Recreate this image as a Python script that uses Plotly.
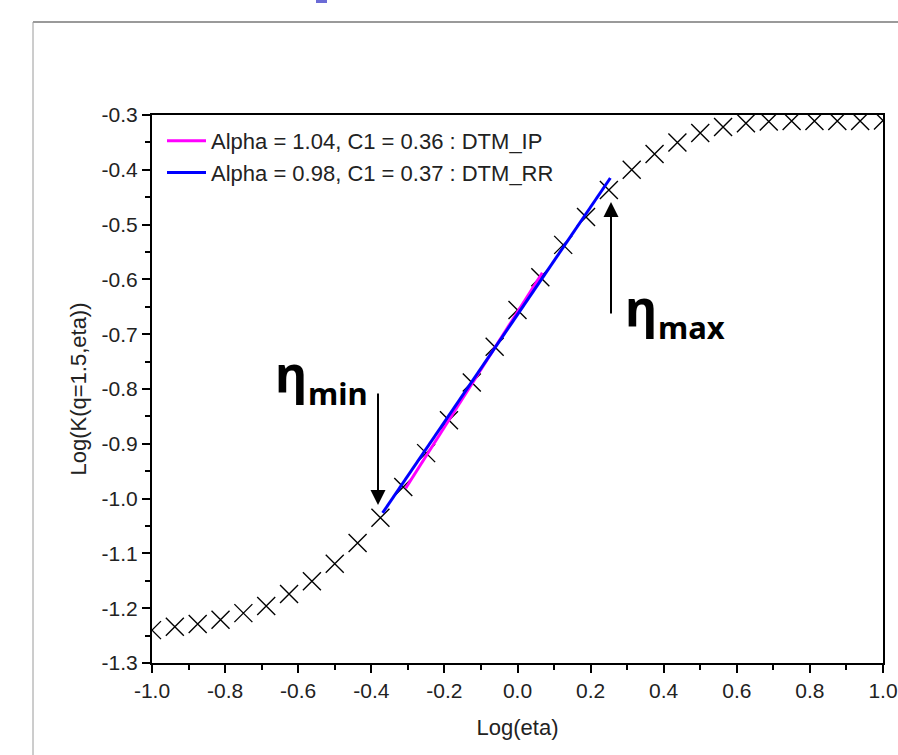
import plotly.graph_objects as go

# ---- data ----
log_eta = [-1.0, -0.9375, -0.875, -0.8125, -0.75, -0.6875, -0.625, -0.5625, -0.5,
           -0.4375, -0.375, -0.3125, -0.25, -0.1875, -0.125, -0.0625, 0.0,
           0.0625, 0.125, 0.1875, 0.25, 0.3125, 0.375, 0.4375, 0.5, 0.5625,
           0.625, 0.6875, 0.75, 0.8125, 0.875, 0.9375, 1.0]
log_k = [-1.240, -1.234, -1.229, -1.221, -1.209, -1.196, -1.174, -1.151, -1.119,
         -1.081, -1.035, -0.979, -0.917, -0.857, -0.788, -0.723, -0.656,
         -0.596, -0.537, -0.486, -0.437, -0.400, -0.371, -0.350, -0.333, -0.322,
         -0.315, -0.312, -0.311, -0.311, -0.311, -0.311, -0.310]

fit_ip_x = [-0.306, 0.068]
fit_ip_y = [-0.981, -0.588]
fit_rr_x = [-0.369, 0.254]
fit_rr_y = [-1.026, -0.415]

name_ip = "Alpha = 1.04, C1 = 0.36 : DTM_IP"
name_rr = "Alpha = 0.98, C1 = 0.37 : DTM_RR"

x_ticks = [-1.0, -0.8, -0.6, -0.4, -0.2, 0.0, 0.2, 0.4, 0.6, 0.8, 1.0]
y_ticks = [-1.3, -1.2, -1.1, -1.0, -0.9, -0.8, -0.7, -0.6, -0.5, -0.4, -0.3]

# ---- layout geometry ----
W, H = 898, 755
L, R, T, B = 152, 15, 115, 92
PW, PH = W - L - R, H - T - B
XR = [-1.0, 1.0]
YR = [-1.3, -0.3]


def X(px):
    return XR[0] + (px - L) / PW * (XR[1] - XR[0])


def Y(py):
    return YR[1] - (py - T) / PH * (YR[1] - YR[0])


def PX(px):
    return (px - L) / PW


def PY(py):
    return (H - B - py) / PH


FONT = "Liberation Sans, Arial, sans-serif"
TXT = "#222222"

fig = go.Figure()
fig.add_trace(go.Scatter(
    x=log_eta, y=log_k, mode="markers", showlegend=False,
    marker=dict(symbol="x-thin-open", size=18, color="black",
                line=dict(color="black", width=1.4)),
))
fig.add_trace(go.Scatter(x=fit_ip_x, y=fit_ip_y, mode="lines", name=name_ip,
                         line=dict(color="#ff00ff", width=3)))
fig.add_trace(go.Scatter(x=fit_rr_x, y=fit_rr_y, mode="lines", name=name_rr,
                         line=dict(color="#0000ff", width=3)))

axis_common = dict(
    showgrid=False, zeroline=False, showline=True, linecolor="black",
    linewidth=2, mirror=True, ticks="outside", ticklen=8, tickwidth=1.5,
    tickcolor="black", tickfont=dict(family=FONT, size=21, color=TXT),
    automargin=False,
    minor=dict(ticks="outside", ticklen=5, tickwidth=1.5, tickcolor="black",
               showgrid=False),
)

fig.update_xaxes(range=XR, tickvals=x_ticks, ticktext=[f"{v:.1f}" for v in x_ticks],
                 minor_dtick=0.1, minor_tick0=0,
                 title=dict(text="Log(eta)", font=dict(family=FONT, size=22, color=TXT),
                            standoff=18),
                 **axis_common)
fig.update_yaxes(range=YR, tickvals=y_ticks, ticktext=[f"{v:.1f}" for v in y_ticks],
                 minor_dtick=0.05, minor_tick0=0,
                 title=dict(text="Log(K(q=1.5,eta))", font=dict(family=FONT, size=22, color=TXT),
                            standoff=9),
                 **axis_common)

annos = [
    # arrows
    dict(x=X(378), y=Y(505), ax=X(378), ay=Y(392), xref="x", yref="y", axref="x", ayref="y",
         text="", showarrow=True, arrowhead=2, arrowsize=1.5, arrowwidth=2,
         arrowcolor="black", standoff=0),
    dict(x=X(611), y=Y(202), ax=X(611), ay=Y(315), xref="x", yref="y", axref="x", ayref="y",
         text="", showarrow=True, arrowhead=2, arrowsize=1.5, arrowwidth=2,
         arrowcolor="black", standoff=0),
    # eta labels
    dict(x=X(273), y=Y(410), xref="x", yref="y", text="<b>η</b>", showarrow=False,
         xanchor="left", yanchor="bottom", font=dict(family="Noto Sans", size=50, color="black")),
    dict(x=X(306), y=Y(416), xref="x", yref="y", text="<b>min</b>", showarrow=False,
         xanchor="left", yanchor="bottom", font=dict(family="Noto Sans", size=31, color="black")),
    dict(x=X(623), y=Y(344), xref="x", yref="y", text="<b>η</b>", showarrow=False,
         xanchor="left", yanchor="bottom", font=dict(family="Noto Sans", size=50, color="black")),
    dict(x=X(656), y=Y(350), xref="x", yref="y", text="<b>max</b>", showarrow=False,
         xanchor="left", yanchor="bottom", font=dict(family="Noto Sans", size=31, color="black")),
]

shapes = [
    # page frame lines
    dict(type="line", xref="paper", yref="paper", x0=PX(33), x1=PX(900), y0=PY(22), y1=PY(22),
         line=dict(color="#9a9a9a", width=2)),
    dict(type="line", xref="paper", yref="paper", x0=PX(33), x1=PX(33), y0=PY(22), y1=PY(760),
         line=dict(color="#9a9a9a", width=1)),
    dict(type="rect", xref="paper", yref="paper", x0=PX(316), x1=PX(327), y0=PY(3), y1=PY(-2),
         line=dict(width=0), fillcolor="#6b6bd6"),
]

fig.update_layout(
    width=W, height=H, autosize=False,
    margin=dict(l=L, r=R, t=T, b=B),
    paper_bgcolor="white", plot_bgcolor="white",
    font=dict(family=FONT, size=20, color=TXT),
    legend=dict(x=PX(162), y=PY(120), xanchor="left", yanchor="top",
                bgcolor="rgba(0,0,0,0)", borderwidth=0, itemwidth=39,
                font=dict(family=FONT, size=22, color=TXT), tracegroupgap=0),
    annotations=annos, shapes=shapes,
)

fig.write_html(
    "out.html",
    config={"displayModeBar": False},
    post_script="document.body.style.margin='0px';document.body.style.overflow='hidden';",
)
